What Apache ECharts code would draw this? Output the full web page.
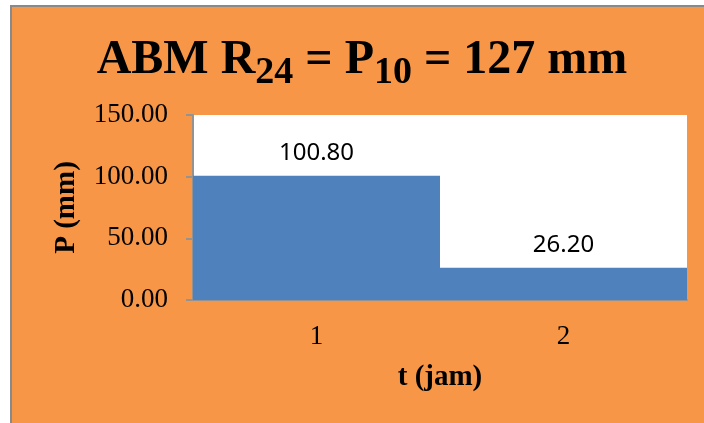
<!DOCTYPE html>
<html>
<head>
<meta charset="utf-8">
<title>ABM R24 = P10 = 127 mm</title>
<script src="https://cdn.jsdelivr.net/npm/echarts@6/dist/echarts.min.js"></script>
<style>
  html, body { margin: 0; padding: 0; background: #ffffff; }
  #frame {
    position: absolute; left: 10px; top: 5px; width: 720px; height: 440px;
    background: #F79646; border-top: 2px solid #898989; border-left: 2px solid #898989;
  }
  #chart { position: absolute; left: 0; top: 0; width: 704px; height: 423px; }
</style>
</head>
<body>
<div id="frame"></div>
<div id="chart"></div>
<script>
// Hourly rainfall distribution for the design storm
const categories = ['1', '2'];
const rainfall = [100.80, 26.20];
const yTicks = { min: 0, max: 150, step: 50 };

const chart = echarts.init(document.getElementById('chart'), null, { renderer: 'canvas' });

const serif = '"Liberation Serif", "Times New Roman", serif';
const axisGrey = '#939393';

chart.setOption({
  backgroundColor: 'transparent',
  animation: false,
  graphic: [{
    type: 'text',
    x: 362,
    y: 62,
    style: {
      text: '{m|ABM R}{s|24}{m| = P}{s|10}{m| = 127 mm}',
      align: 'center',
      verticalAlign: 'middle',
      fill: '#000',
      rich: {
        m: { fontFamily: serif, fontWeight: 'bold', fontSize: 48, lineHeight: 50, verticalAlign: 'top', fill: '#000' },
        s: { fontFamily: serif, fontWeight: 'bold', fontSize: 38, lineHeight: 38, verticalAlign: 'top', padding: [17, 0, 0, 0], fill: '#000' }
      }
    }
  }],
  grid: {
    left: 193, right: 17, top: 115, bottom: 123,
    show: true, backgroundColor: '#ffffff', borderWidth: 0
  },
  xAxis: {
    type: 'category',
    data: categories,
    name: 't (jam)',
    nameLocation: 'middle',
    nameGap: 63,
    nameTextStyle: { fontFamily: serif, fontWeight: 'bold', fontSize: 29, color: '#000' },
    axisLine: { show: true, lineStyle: { color: axisGrey, width: 2 } },
    axisTick: { show: false },
    axisLabel: { margin: 23, fontFamily: serif, fontSize: 27, color: '#000' },
    splitLine: { show: false }
  },
  yAxis: {
    type: 'value',
    min: yTicks.min,
    max: yTicks.max,
    interval: yTicks.step,
    name: 'P (mm)',
    nameLocation: 'middle',
    nameGap: 112,
    nameRotate: 90,
    nameTextStyle: { fontFamily: serif, fontWeight: 'bold', fontSize: 29, color: '#000' },
    axisLine: { show: true, lineStyle: { color: axisGrey, width: 2 } },
    axisTick: { show: true, inside: false, length: 7, lineStyle: { color: axisGrey, width: 2 } },
    axisLabel: {
      margin: 25, fontFamily: serif, fontSize: 27, color: '#000',
      formatter: v => v.toFixed(2)
    },
    splitLine: { show: false }
  },
  series: [{
    type: 'bar',
    data: rainfall,
    barCategoryGap: '0%',
    itemStyle: { color: '#4F81BD' },
    label: {
      show: true,
      position: 'top',
      distance: 11,
      fontFamily: '"Noto Sans", "Open Sans", sans-serif',
      fontSize: 24,
      color: '#000',
      formatter: p => p.value.toFixed(2)
    }
  }]
});
</script>
</body>
</html>
